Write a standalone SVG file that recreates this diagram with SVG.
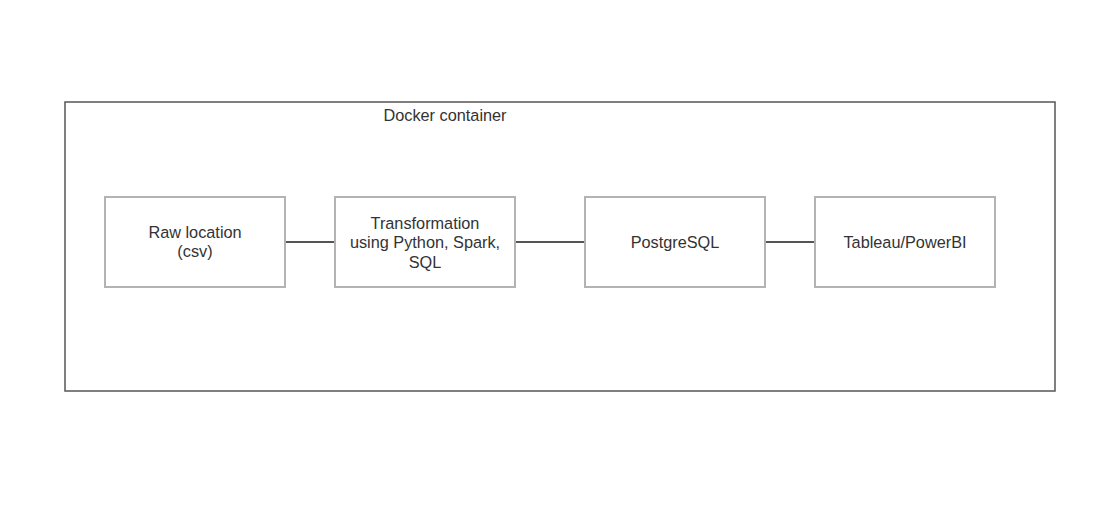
<svg xmlns="http://www.w3.org/2000/svg" width="1113" height="509" viewBox="0 0 1113 509">
<style>
.node rect{fill:#fff;stroke:#b3b3b3;stroke-width:2}
text{font-family:"Liberation Sans",Arial,sans-serif;font-size:16.3px;fill:#333;text-anchor:middle}
.edge{stroke:#555;stroke-width:2;fill:none}
</style>
<rect x="0" y="0" width="1113" height="509" fill="#fff"/>
<g id="container">
<rect x="65" y="102" width="990" height="289" fill="#fff" stroke="#555" stroke-width="1.5"/>
<text x="445" y="121">Docker container</text>
</g>
<g id="connectors">
<line class="edge" x1="285" y1="242" x2="335" y2="242"/>
<line class="edge" x1="515" y1="242" x2="585" y2="242"/>
<line class="edge" x1="765" y1="242" x2="815" y2="242"/>
</g>
<g id="raw" class="node">
<rect x="105" y="197" width="180" height="90"/>
<text x="195" y="238">Raw location</text>
<text x="195" y="257">(csv)</text>
</g>
<g id="transform" class="node">
<rect x="335" y="197" width="180" height="90"/>
<text x="425" y="229">Transformation</text>
<text x="425" y="248">using Python, Spark,</text>
<text x="425" y="268">SQL</text>
</g>
<g id="postgres" class="node">
<rect x="585" y="197" width="180" height="90"/>
<text x="675" y="248">PostgreSQL</text>
</g>
<g id="tableau" class="node">
<rect x="815" y="197" width="180" height="90"/>
<text x="905" y="248">Tableau/PowerBI</text>
</g>
</svg>
